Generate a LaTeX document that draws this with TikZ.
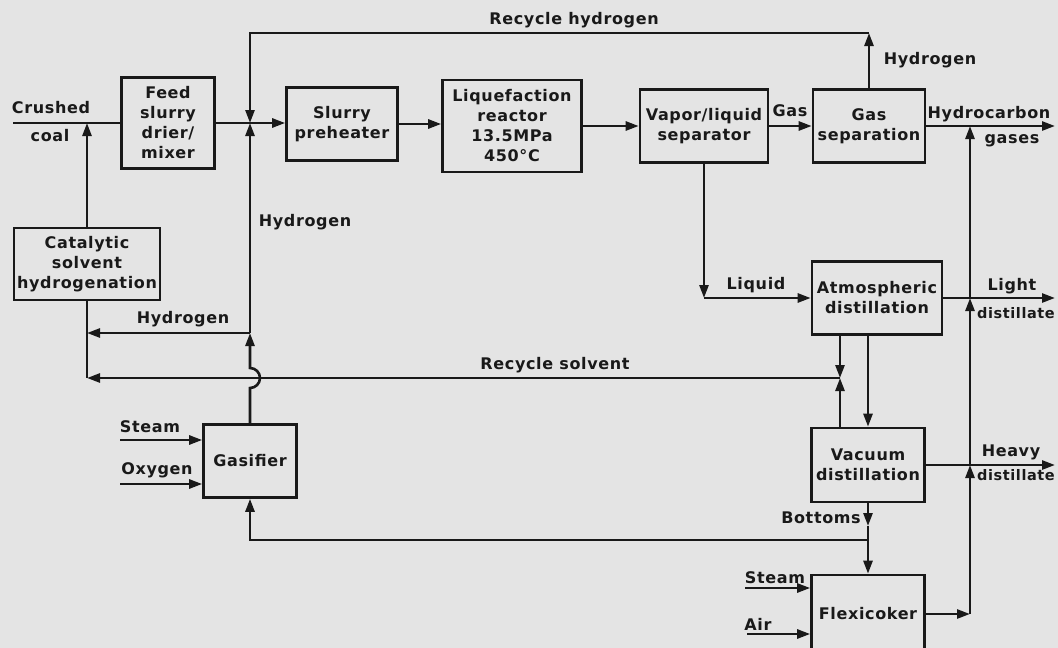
\documentclass[tikz,border=0pt]{standalone}
\usepackage{fontspec}
\setsansfont{DejaVu Sans}[LetterSpace=4]
\definecolor{scangray}{RGB}{228,228,228}
\definecolor{inkblack}{RGB}{25,25,25}
\usetikzlibrary{arrows.meta, positioning, calc}

\begin{document}
\begin{tikzpicture}[x=1pt, y=-1pt,
  blk/.style={draw=inkblack, line width=2.6pt, fill=scangray, align=center, inner sep=0pt, text=inkblack, font=\sffamily\bfseries\fontsize{16}{20}\selectfont},
  arr/.style={-{Triangle[length=13pt,width=9pt]}, line width=2.6pt, draw=inkblack},
  ln/.style={line width=2.6pt, draw=inkblack},
  lbl/.style={font=\sffamily\bfseries\fontsize{16}{20}\selectfont, text=inkblack, inner sep=0pt},
  lblsm/.style={lbl, font=\sffamily\bfseries\fontsize{14.5}{18}\selectfont}
]
  \fill[scangray] (0,0) rectangle (1058,648);
  \useasboundingbox (0,0) rectangle (1058,648);

  % --- Main train ---
  \node[blk, minimum width=93pt, minimum height=91pt] (feed) at (168,123) {Feed\\slurry\\drier/\\mixer};
  \node[blk, minimum width=111pt, minimum height=73pt] (preheat) at (342,124) {Slurry\\preheater};
  \node[blk, minimum width=139pt, minimum height=92pt] (reactor) at (512,126) {Liquefaction\\reactor\\13.5MPa\\450°C};
  \node[blk, minimum width=128pt, minimum height=73pt] (vlsep) at (704,126) {Vapor/liquid\\separator};
  \node[blk, minimum width=112pt, minimum height=73pt] (gassep) at (869,126) {Gas\\separation};
  \node[blk, minimum width=146pt, minimum height=72pt] (cat) at (87,264) {Catalytic\\solvent\\hydrogenation};

  % --- Distillation and coking ---
  \node[blk, minimum width=130pt, minimum height=73pt] (atm) at (877,298) {Atmospheric\\distillation};
  \node[blk, minimum width=113pt, minimum height=74pt] (vac) at (868,465) {Vacuum\\distillation};
  \node[blk, minimum width=113pt, minimum height=78pt] (flexi) at (868,614) {Flexicoker};
  \node[blk, minimum width=93pt, minimum height=73pt] (gasif) at (250,461) {Gasifier};

  % --- Junctions ---
  \coordinate (coal) at (13,123);
  \coordinate (j1) at (250,123);
  \coordinate (rh) at (250,33);
  \coordinate (hj) at (250,333);
  \coordinate (sj) at (840,378);
  \coordinate (bt) at (868,526);
  \coordinate (bj) at (868,540);
  \coordinate (riser) at (970,0);
  \coordinate (outx) at (1055,0);
  \coordinate (gsteam) at (120,440);
  \coordinate (goxy) at (120,484);
  \coordinate (fsteam) at (745,588);
  \coordinate (fair) at (747,634);

  % --- Coal feed ---
  \draw[ln] (coal) -- (coal -| feed.west);
  \draw[arr] (cat.north) -- (cat.north |- coal);
  \draw[arr] (feed.east |- j1) -- (j1 -| preheat.west);
  \draw[arr] (preheat.east) -- (preheat.east -| reactor.west);
  \draw[arr] (reactor.east) -- (vlsep.west);
  \draw[arr] (vlsep.east) -- (gassep.west);

  % --- Hydrogen loop ---
  \draw[arr] (gassep.north) -- (gassep.north |- rh);
  \draw[arr] (gassep.north |- rh) -- (rh) -- (j1);
  \draw[arr] (gasif.north) -- (250,388) arc[start angle=-90, end angle=90, radius=10pt] -- (hj);
  \draw[arr] (hj) -- (j1);
  \draw[arr] (hj) -- (hj -| cat.south);
  \draw[ln] (cat.south) -- (cat.south |- sj);

  % --- Products ---
  \draw[arr] (gassep.east) -- (gassep.east -| outx);
  \draw[arr] (vlsep.south) -- (vlsep.south |- atm.west);
  \draw[arr] (vlsep.south |- atm.west) -- (atm.west);
  \draw[arr] (atm.east) -- (atm.east -| outx);
  \draw[arr] (vac.east) -- (vac.east -| outx);

  % --- Recycle solvent ---
  \draw[arr] (sj |- atm.south) -- (sj);
  \draw[arr] (sj |- vac.north) -- (sj);
  \draw[arr] (sj) -- (sj -| cat.south);
  \draw[arr] (atm.south -| vac.north) -- (vac.north);

  % --- Bottoms ---
  \draw[arr] (vac.south) -- (bt);
  \draw[ln] (bt) -- (bj);
  \draw[arr] (bj) -- (flexi.north);
  \draw[arr] (bj) -- (bj -| gasif.south) -- (gasif.south);

  % --- Flexicoker gas riser ---
  \draw[arr] (flexi.east) -- (flexi.east -| riser);
  \draw[arr] (flexi.east -| riser) -- (vac.east -| riser);
  \draw[arr] (vac.east -| riser) -- (atm.east -| riser);
  \draw[arr] (atm.east -| riser) -- (gassep.east -| riser);

  % --- Feeds ---
  \draw[arr] (gsteam) -- (gsteam -| gasif.west);
  \draw[arr] (goxy) -- (goxy -| gasif.west);
  \draw[arr] (fsteam) -- (fsteam -| flexi.west);
  \draw[arr] (fair) -- (fair -| flexi.west);

  % --- Labels ---
  \node[lbl] (lcrushed) at (51,108) {Crushed};
  \node[lbl] (lcoal) at (50,136) {coal};
  \node[lbl] (lrecyh) at (574,20) {Recycle hydrogen};
  \node[lbl] (lhtop) at (930,60) {Hydrogen};
  \node[lbl] (lgas) at (790,111) {Gas};
  \node[lbl] (lhc) at (989,114) {Hydrocarbon};
  \node[lbl] (lgases) at (1012,141) {gases};
  \node[lbl] (lhmid) at (305,222) {Hydrogen};
  \node[lbl] (lhleft) at (183,319) {Hydrogen};
  \node[lbl] (lrecys) at (555,365) {Recycle solvent};
  \node[lbl] (lliq) at (756,285) {Liquid};
  \node[lbl] (llight) at (1012,286) {Light};
  \node[lblsm] (lldist) at (1016,313) {distillate};
  \node[lbl] (lheavy) at (1011,452) {Heavy};
  \node[lblsm] (lhdist) at (1016,475) {distillate};
  \node[lbl] (lbott) at (821,518) {Bottoms};
  \node[lbl] (lgsteam) at (150,427) {Steam};
  \node[lbl] (loxy) at (157,470) {Oxygen};
  \node[lbl] (lfsteam) at (775,578) {Steam};
  \node[lbl] (lair) at (758,624) {Air};
\end{tikzpicture}
\end{document}
